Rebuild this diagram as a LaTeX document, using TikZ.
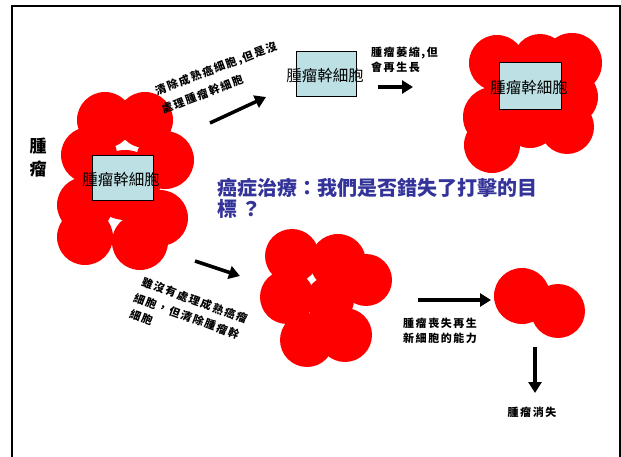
\documentclass[tikz,border=0pt]{standalone}
\usepackage{fontspec}
\newfontfamily\cjk{Noto Sans CJK TC}
\newfontfamily\cjknote[LetterSpace=14]{Noto Sans CJK TC}
\usetikzlibrary{arrows.meta}
\definecolor{tumor}{HTML}{FF0000}
\definecolor{stem}{HTML}{BCE0E3}
\definecolor{titleblue}{HTML}{333399}
\tikzset{
  cell/.style={fill=tumor, draw=none},
  stembox/.style={draw=black, line width=1pt, fill=stem, inner sep=0pt},
  stemlabel/.style={font=\cjk\fontsize{15.5}{16}\selectfont, inner sep=0pt},
  note/.style={font=\cjknote\bfseries\fontsize{11}{15}\selectfont, inner sep=0pt, align=left},
  bigarrow/.style={line width=3.5pt, -{Triangle[length=11pt,width=13pt]}},
}
\begin{document}
\begin{tikzpicture}[x=1pt,y=-1pt]
\useasboundingbox (0,0) rectangle (621,457);
% outer frame, open at the bottom
\draw[line width=2.5pt] (12,457) -- (12,6) -- (620,6) -- (620,457);

% initial tumour
\foreach \x/\y/\r in {105/120/28,145/120/28,89/155/28,165/160/29,85/205/28,160/218/28,85/237/28,140/242/28,125/185/35}
  \fill[cell] (\x,\y) circle (\r);
\node[stembox,minimum width=61pt,minimum height=45pt] (stemA) at (122.5,178.5) {};
\node[stemlabel] (stemAt) at (121,180) {腫瘤幹細胞};
\node[font=\cjk\bfseries\fontsize{17}{19}\selectfont, align=center, inner sep=0pt] (tumorlbl) at (38,158) {腫\\[4pt]瘤};

% upper path: remove mature cells only
\coordinate (a1s) at (210,123);
\coordinate (a1e) at (266,97);
\draw[bigarrow] (a1s) -- (a1e);
\node[note, rotate=21, anchor=south west] (n1a) at (158,98) {清除成熟癌細胞,但是沒};
\node[note, rotate=21, anchor=south west] (n1b) at (164,115) {處理腫瘤幹細胞};

\node[stembox,minimum width=60pt,minimum height=45pt] (stemB) at (326,74.5) {};
\node[stemlabel] (stemBt) at (325,76) {腫瘤幹細胞};

\node[note, anchor=north west] (n2) at (371,47) {腫瘤萎縮,但\\會再生長};
\coordinate (a2s) at (378,87);
\coordinate (a2e) at (413,87);
\draw[bigarrow] (a2s) -- (a2e);

% regrown tumour
\foreach \x/\y/\r in {497/63/28,540/61/27,572/63/30,493/117/30,570/97/28,492/145/28,530/120/28,567/127/27,530/90/30}
  \fill[cell] (\x,\y) circle (\r);
\node[stembox,minimum width=62pt,minimum height=47pt] (stemC) at (530,86.5) {};
\node[stemlabel] (stemCt) at (529,88) {腫瘤幹細胞};

% question
\node[font=\cjk\bfseries\fontsize{20}{21}\selectfont, text=titleblue, align=left, anchor=north west, inner sep=0pt] (title) at (217,178)
  {癌症治療：我們是否錯失了打擊的目\\標 ？};

% lower path: remove stem cells
\coordinate (a3s) at (195,261);
\coordinate (a3e) at (240,276);
\draw[bigarrow] (a3s) -- (a3e);
\node[note, rotate=-20, anchor=north west] (n3a) at (144,276) {雖沒有處理成熟癌瘤};
\node[note, rotate=-20, anchor=north west] (n3b) at (136,292) {細胞，但清除腫瘤幹};
\node[note, rotate=-20, anchor=north west] (n3c) at (132,308) {細胞};

% remaining tumour without stem cells
\foreach \x/\y/\r in {292/256/27,338/262/28,366/280/26,287/297/27,307/340/27,345/335/27}
  \fill[cell] (\x,\y) circle (\r);
\fill[cell] (330,300) circle (24);

\coordinate (a4s) at (418,300);
\coordinate (a4e) at (491,300);
\draw[bigarrow] (a4s) -- (a4e);
\node[note, anchor=north west] (n4) at (403,318) {腫瘤喪失再生\\新細胞的能力};

% shrinking tumour
\fill[cell] (522,296) circle (28);
\fill[cell] (558,311) circle (27);

\coordinate (a5s) at (535,347);
\coordinate (a5e) at (535,393);
\draw[bigarrow] (a5s) -- (a5e);
\node[note] (n5) at (532,412) {腫瘤消失};
\end{tikzpicture}
\end{document}
